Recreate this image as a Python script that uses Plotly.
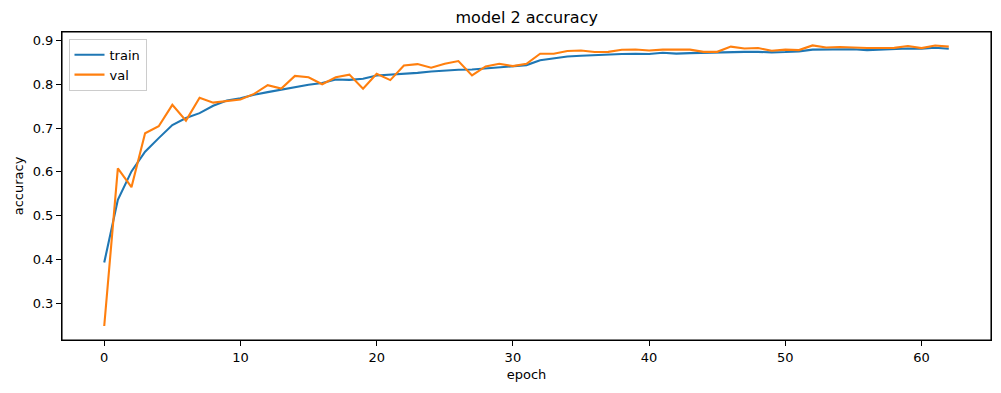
import plotly.graph_objects as go

epochs = list(range(63))

train_acc = [
    0.393, 0.536, 0.601, 0.646, 0.677, 0.707, 0.723, 0.734, 0.751, 0.763,
    0.768, 0.776, 0.782, 0.788, 0.793, 0.799, 0.803, 0.811, 0.810, 0.8125,
    0.820, 0.8216, 0.823, 0.826, 0.829, 0.8315, 0.833, 0.8337, 0.836, 0.838,
    0.8406, 0.8437, 0.855, 0.860, 0.8635, 0.865, 0.8666, 0.867, 0.869, 0.8696,
    0.869, 0.872, 0.870, 0.871, 0.872, 0.8726, 0.8735, 0.874, 0.874, 0.8727,
    0.8735, 0.875, 0.879, 0.879, 0.880, 0.880, 0.878, 0.879, 0.881, 0.8817,
    0.881, 0.8833, 0.881,
]

val_acc = [
    0.248, 0.608, 0.565, 0.688, 0.704, 0.753, 0.717, 0.769, 0.758, 0.762,
    0.765, 0.778, 0.798, 0.790, 0.819, 0.816, 0.800, 0.816, 0.822, 0.790,
    0.824, 0.8095, 0.843, 0.846, 0.8376, 0.8468, 0.853, 0.820, 0.8406, 0.8468,
    0.8415, 0.8468, 0.8696, 0.8696, 0.876, 0.877, 0.8735, 0.874, 0.8787, 0.8794,
    0.877, 0.879, 0.879, 0.879, 0.874, 0.874, 0.886, 0.8817, 0.8826, 0.8765,
    0.879, 0.878, 0.8886, 0.884, 0.885, 0.8833, 0.8826, 0.8826, 0.883, 0.8872,
    0.8826, 0.8886, 0.886,
]

x_ticks = [0, 10, 20, 30, 40, 50, 60]
y_ticks = [0.3, 0.4, 0.5, 0.6, 0.7, 0.8, 0.9]

FONT = "DejaVu Sans"

fig = go.Figure()
fig.add_trace(go.Scatter(x=epochs, y=train_acc, mode="lines", name="train",
                         line=dict(color="#1f77b4", width=2.1)))
fig.add_trace(go.Scatter(x=epochs, y=val_acc, mode="lines", name="val",
                         line=dict(color="#ff7f0e", width=2.1)))

axis_common = dict(
    showline=True, linecolor="black", linewidth=1.1, mirror=True,
    showgrid=False, zeroline=False, automargin=False,
    ticks="outside", ticklen=5, tickwidth=1.1, tickcolor="black",
    tickfont=dict(family=FONT, size=13, color="black"),
)

fig.update_layout(
    width=1001, height=393,
    margin=dict(l=62, r=10, t=32, b=53),
    paper_bgcolor="white", plot_bgcolor="white",
    font=dict(family=FONT, color="black"),
    title=dict(text="model 2 accuracy", x=0.5262, xanchor="center",
               y=0.955, yanchor="middle",
               font=dict(family=FONT, size=16, color="black")),
    xaxis=dict(range=[-3.1, 65.1], tickvals=x_ticks,
               title=dict(text="epoch", standoff=6,
                          font=dict(family=FONT, size=13, color="black")),
               **axis_common),
    yaxis=dict(range=[0.2161, 0.9193], tickvals=y_ticks, tickformat=".1f",
               title=dict(text="accuracy", standoff=6,
                          font=dict(family=FONT, size=13, color="black")),
               **axis_common),
    legend=dict(x=0.007, y=0.978, xanchor="left", yanchor="top",
                bgcolor="rgba(255,255,255,0.8)", bordercolor="#cccccc",
                borderwidth=1, font=dict(family=FONT, size=13, color="black"),
                itemwidth=30, tracegroupgap=0),
    showlegend=True,
)

fig.add_shape(type="rect", xref="paper", yref="paper", x0=0, x1=1, y0=0, y1=1,
              line=dict(color="black", width=1.1), layer="above")

fig.write_html("out.html", config={"displayModeBar": False},
               post_script="document.body.style.margin='0';document.body.style.overflow='hidden';")
